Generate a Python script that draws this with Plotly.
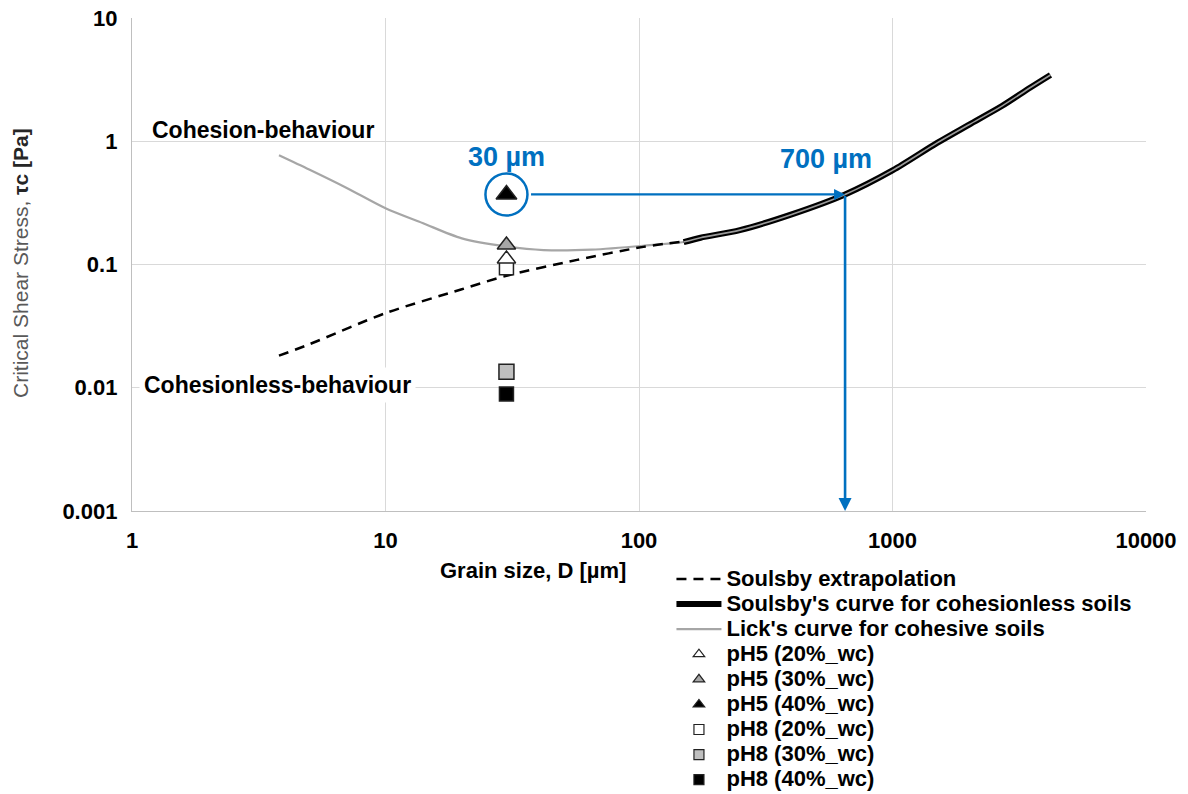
import numpy as np
import plotly.graph_objects as go

# Soulsby threshold curve for cohesionless sediment (D in um, tau in Pa)
soulsby_d = [150, 175, 250, 400, 650, 1000, 1500, 2000, 2700, 3500, 4200]
soulsby_tau = [0.152, 0.165, 0.19, 0.255, 0.37, 0.58, 0.97, 1.36, 1.93, 2.73, 3.45]

# Soulsby curve extended into the fine fraction
extrap_d = [3.8, 5, 10, 20, 30, 57, 104, 163]
extrap_tau = [0.0182, 0.0225, 0.0403, 0.063, 0.081, 0.109, 0.139, 0.157]

# Lick curve for cohesive sediment
lick_d = [3.8, 5, 7, 10, 14, 20, 30, 42, 65, 104, 163, 175]
lick_tau = [0.77, 0.59, 0.42, 0.286, 0.217, 0.163, 0.14, 0.131, 0.132, 0.142, 0.156, 0.165]

# Measured samples (all at D = 30 um)
sample_d = 30
ph5_labels = ["pH5 (20%_wc)", "pH5 (30%_wc)", "pH5 (40%_wc)"]
ph5_tau = [0.111, 0.144, 0.37]
ph8_labels = ["pH8 (20%_wc)", "pH8 (30%_wc)", "pH8 (40%_wc)"]
ph8_tau = [0.094, 0.0135, 0.0089]

# Highlighted equivalence: circled sample and matching cohesionless grain size
equiv_d = 650
equiv_tau = ph5_tau[2]
arrow_start_d = 37

x_ticks = [1, 10, 100, 1000, 10000]
x_ticktext = ["1", "10", "100", "1000", "10000"]
y_ticks = [0.001, 0.01, 0.1, 1, 10]
y_ticktext = ["0.001", "0.01", "0.1", "1", "10"]

FONT = "Liberation Sans, Arial, sans-serif"
BLUE = "#0070C0"
LEG_SIZE = 22


def leg(name):
    return f'<span style="font-size:{LEG_SIZE}px"><b>{name}</b></span>'


fig = go.Figure()

fig.add_trace(go.Scatter(
    x=lick_d, y=lick_tau, mode="lines", name=leg("Lick's curve for cohesive soils"),
    line=dict(color="#a6a6a6", width=2.2, shape="spline", smoothing=0.8), legendrank=3))
fig.add_trace(go.Scatter(
    x=extrap_d, y=extrap_tau, mode="lines", name=leg("Soulsby extrapolation"),
    line=dict(color="black", width=2.5, dash="10px,7px", shape="spline", smoothing=0.8),
    legendrank=1))
fig.add_trace(go.Scatter(
    x=soulsby_d, y=soulsby_tau, mode="lines", name=leg("Soulsby's curve for cohesionless soils"),
    line=dict(color="black", width=6, shape="spline", smoothing=0.8), legendrank=2))
fig.add_trace(go.Scatter(
    x=soulsby_d, y=soulsby_tau, mode="lines", showlegend=False,
    line=dict(color="#9a9a9a", width=1.6, shape="spline", smoothing=0.8), hoverinfo="skip"))

ph5_fill = ["white", "#a6a6a6", "black"]
ph8_fill = ["white", "#bfbfbf", "black"]
ph5_size = [16, 16, 18]
ph8_size = [14, 15, 14]
draw_order = [(ph8_labels, ph8_tau, ph8_fill, ph8_size, "square", 7),
              (ph5_labels, ph5_tau, ph5_fill, ph5_size, "triangle-up", 4)]

for labels, taus, fills, sizes, sym, rank0 in draw_order:
    for i, (lab, tau, fill, sz) in enumerate(zip(labels, taus, fills, sizes)):
        # sample marker
        fig.add_trace(go.Scatter(
            x=[sample_d], y=[tau], mode="markers", showlegend=False, legendgroup=lab,
            marker=dict(symbol=sym, size=sz, color=fill,
                        line=dict(color="#222222", width=1.5)), name=lab))
        # compact legend entry
        fig.add_trace(go.Scatter(
            x=[None], y=[None], mode="markers", name=leg(lab), legendgroup=lab,
            legendrank=rank0 + i,
            marker=dict(symbol=sym, size=10, color=fill,
                        line=dict(color="#222222", width=1.2))))

# circle around the highlighted sample
fig.add_trace(go.Scatter(
    x=[sample_d], y=[equiv_tau], mode="markers", showlegend=False, hoverinfo="skip",
    marker=dict(symbol="circle-open", size=42, color=BLUE, line=dict(color=BLUE, width=2.5))))

annotations = []
lx = np.log10
# horizontal arrow: sample -> Soulsby curve
annotations.append(dict(
    x=lx(equiv_d), y=lx(equiv_tau), ax=lx(arrow_start_d), ay=lx(equiv_tau),
    xref="x", yref="y", axref="x", ayref="y", text="", showarrow=True,
    arrowhead=2, arrowsize=1, arrowwidth=2.2, arrowcolor=BLUE, standoff=0))
# vertical arrow: down to the grain-size axis
annotations.append(dict(
    x=lx(equiv_d), y=lx(y_ticks[0]), ax=lx(equiv_d), ay=lx(equiv_tau),
    xref="x", yref="y", axref="x", ayref="y", text="", showarrow=True,
    arrowhead=2, arrowsize=1, arrowwidth=2.6, arrowcolor=BLUE, standoff=0))


def label(x, y, text, size, color="black", ref="x", **kw):
    d = dict(x=x, y=y, xref=ref, yref=ref.replace("x", "y"), text=text,
             showarrow=False, xanchor="center", yanchor="middle",
             font=dict(family=FONT, size=size, color=color))
    d.update(kw)
    return d


annotations.append(label(lx(sample_d), lx(0.75), "<b>30 µm</b>", 27, BLUE))
annotations.append(label(lx(547), lx(0.72), "<b>700 µm</b>", 27, BLUE))
annotations.append(label(lx(3.3), lx(1.24), "<b>Cohesion-behaviour</b>", 23))
annotations.append(label(lx(3.75), lx(0.0106), "<b>Cohesionless-behaviour</b>", 23,
                         bgcolor="white", borderpad=4))
# axis titles
annotations.append(label(0.3955, -0.1217, "<b>Grain size, D [µm]</b>", 22, ref="paper"))
annotations.append(label(
    -0.1105, 0.503,
    'Critical Shear Stress, <b><span style="color:#262626">τc [Pa]</span></b>',
    21, "#595959", ref="paper", textangle=-90))

axis_common = dict(
    type="log", showgrid=True, gridcolor="#d9d9d9", gridwidth=1.3,
    showline=True, linecolor="#bfbfbf", linewidth=1.3, zeroline=False,
    ticks="", tickfont=dict(family=FONT, size=22, color="black", weight="bold"),
)

fig.update_layout(
    width=1188, height=794,
    margin=dict(l=132, r=42, t=18, b=283, autoexpand=False),
    paper_bgcolor="white", plot_bgcolor="white",
    showlegend=True,
    legend=dict(x=0.532, y=0.293, xref="paper", yref="container",
                xanchor="left", yanchor="top",
                font=dict(family=FONT, size=17.0, color="black"),
                bgcolor="rgba(0,0,0,0)", itemwidth=45, tracegroupgap=0,
                traceorder="normal"),
    annotations=annotations,
    xaxis=dict(range=[0, 4], tickvals=x_ticks, ticktext=x_ticktext,
               ticklabelstandoff=9, **axis_common),
    yaxis=dict(range=[-3, 1], tickvals=y_ticks, ticktext=y_ticktext,
               ticklabelstandoff=9, **axis_common),
)

fig.write_html("out.html")
